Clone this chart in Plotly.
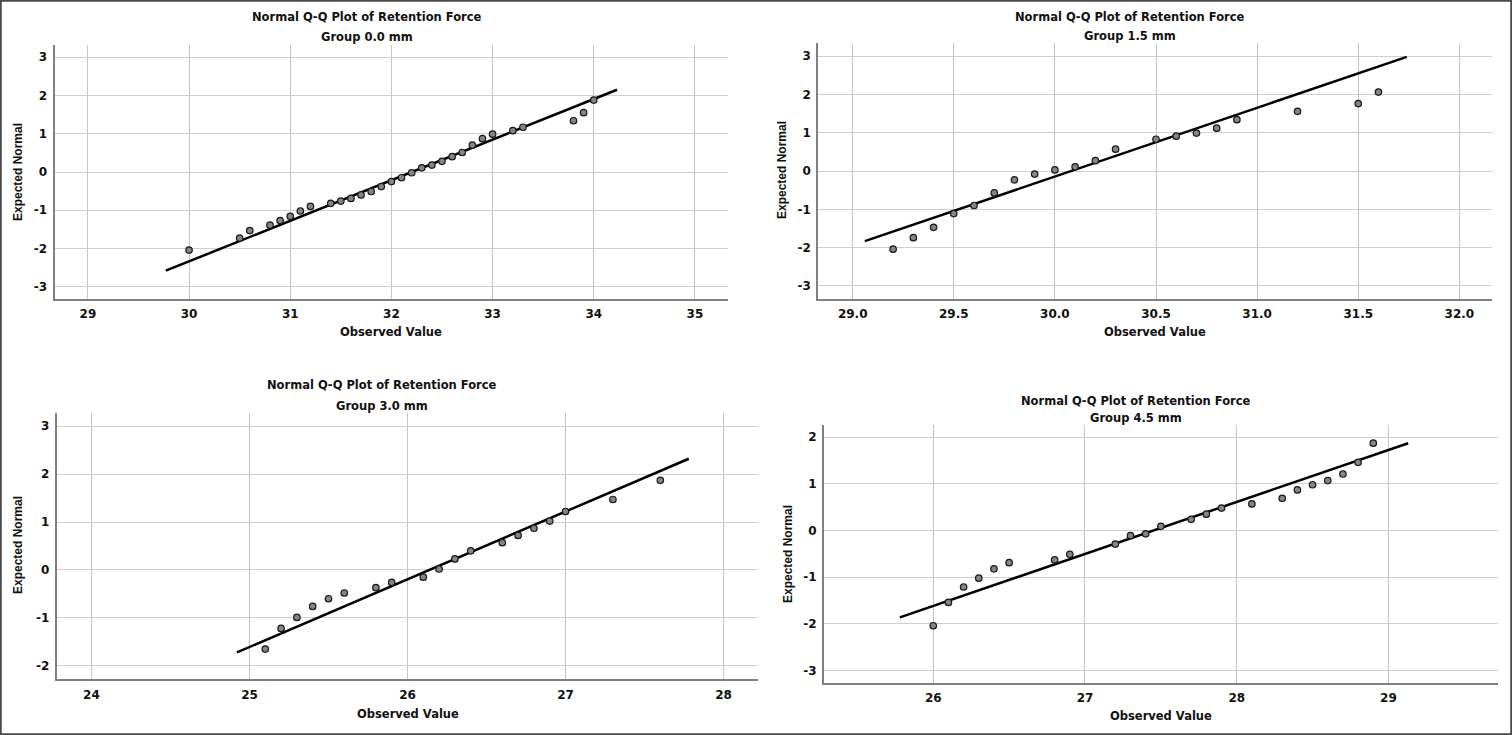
import plotly.graph_objects as go

W, H = 1512, 735

# ---------------- data ----------------
g00_x = [30.0, 30.5, 30.6, 30.8, 30.9, 31.0, 31.1, 31.2, 31.4, 31.5, 31.6, 31.7, 31.8, 31.9,
         32.0, 32.1, 32.2, 32.3, 32.4, 32.5, 32.6, 32.7, 32.8, 32.9, 33.0, 33.2, 33.3, 33.8, 33.9, 34.0]
g00_y = [-2.04, -1.73, -1.53, -1.39, -1.27, -1.16, -1.02, -0.90, -0.82, -0.76, -0.69, -0.60, -0.51, -0.38,
         -0.25, -0.15, -0.02, 0.11, 0.18, 0.28, 0.40, 0.51, 0.70, 0.87, 0.99, 1.08, 1.17, 1.34, 1.55, 1.88]
g00_line_x = [29.77, 34.23]
g00_line_y = [-2.58, 2.15]

g15_x = [29.2, 29.3, 29.4, 29.5, 29.6, 29.7, 29.8, 29.9, 30.0, 30.1, 30.2, 30.3,
         30.5, 30.6, 30.7, 30.8, 30.9, 31.2, 31.5, 31.6]
g15_y = [-2.04, -1.74, -1.47, -1.11, -0.90, -0.57, -0.23, -0.08, 0.03, 0.11, 0.27, 0.57,
         0.83, 0.91, 0.99, 1.12, 1.34, 1.56, 1.76, 2.06]
g15_line_x = [29.06, 31.74]
g15_line_y = [-1.83, 2.98]

g30_x = [25.1, 25.2, 25.3, 25.4, 25.5, 25.6, 25.8, 25.9, 26.1, 26.2, 26.3, 26.4,
         26.6, 26.7, 26.8, 26.9, 27.0, 27.3, 27.6]
g30_y = [-1.65, -1.22, -0.99, -0.76, -0.60, -0.48, -0.37, -0.26, -0.15, 0.02, 0.23, 0.40,
         0.57, 0.72, 0.87, 1.02, 1.22, 1.47, 1.87]
g30_line_x = [24.92, 27.78]
g30_line_y = [-1.72, 2.32]

g45_x = [26.0, 26.1, 26.2, 26.3, 26.4, 26.5, 26.8, 26.9, 27.2, 27.3, 27.4, 27.5, 27.7, 27.8,
         27.9, 28.1, 28.3, 28.4, 28.5, 28.6, 28.7, 28.8, 28.9]
g45_y = [-2.04, -1.54, -1.21, -1.02, -0.82, -0.69, -0.63, -0.51, -0.29, -0.11, -0.07, 0.09, 0.24, 0.35,
         0.48, 0.57, 0.69, 0.87, 0.98, 1.07, 1.21, 1.46, 1.87]
g45_line_x = [25.78, 29.13]
g45_line_y = [-1.86, 1.87]

main_title = "Normal Q-Q Plot of Retention Force"
group_titles = ["Group 0.0 mm", "Group 1.5 mm", "Group 3.0 mm", "Group 4.5 mm"]
x_title = "Observed Value"
y_title = "Expected Normal"

x_ticks_00 = [29, 30, 31, 32, 33, 34, 35]
x_ticks_15 = [29.0, 29.5, 30.0, 30.5, 31.0, 31.5, 32.0]
x_ticks_30 = [24, 25, 26, 27, 28]
x_ticks_45 = [26, 27, 28, 29]
y_ticks_00 = [-3, -2, -1, 0, 1, 2, 3]
y_ticks_15 = [-3, -2, -1, 0, 1, 2, 3]
y_ticks_30 = [-2, -1, 0, 1, 2, 3]
y_ticks_45 = [-3, -2, -1, 0, 1, 2]

# ---------------- layout geometry (pixels) ----------------
panels = [
    dict(x=g00_x, y=g00_y, lx=g00_line_x, ly=g00_line_y, xt=x_ticks_00, yt=y_ticks_00, xfmt="{:g}",
         px=(54.5, 728.3), py=(45, 299), xr=[28.67, 35.33], yr=[-3.32, 3.32],
         t1=16.7, t2=37.5, tc=367, xtl=332, ytl=18, ytc=172),
    dict(x=g15_x, y=g15_y, lx=g15_line_x, ly=g15_line_y, xt=x_ticks_15, yt=y_ticks_15, xfmt="{:.1f}",
         px=(818.3, 1491.7), py=(42.7, 299), xr=[28.83, 32.16], yr=[-3.34, 3.35],
         t1=16.7, t2=36, tc=1130, xtl=332, ytl=782, ytc=170),
    dict(x=g30_x, y=g30_y, lx=g30_line_x, ly=g30_line_y, xt=x_ticks_30, yt=y_ticks_30, xfmt="{:g}",
         px=(56.7, 758.3), py=(412.7, 679.3), xr=[23.78, 28.22], yr=[-2.28, 3.28],
         t1=385, t2=406, tc=382, xtl=714, ytl=18, ytc=545),
    dict(x=g45_x, y=g45_y, lx=g45_line_x, ly=g45_line_y, xt=x_ticks_45, yt=y_ticks_45, xfmt="{:g}",
         px=(824, 1497.7), py=(425, 682.7), xr=[25.28, 29.72], yr=[-3.26, 2.26],
         t1=400.7, t2=418.3, tc=1136, xtl=716, ytl=788, ytc=554),
]

fig = go.Figure()
TXT = "DejaVu Sans"
tickfont = dict(family=TXT, size=12, color="#111111", weight="bold")
annotations = []

for i, p in enumerate(panels):
    n = "" if i == 0 else str(i + 1)
    xa, ya = "x" + n, "y" + n
    fig.add_trace(go.Scatter(x=p["lx"], y=p["ly"], mode="lines", xaxis=xa, yaxis=ya,
                             line=dict(color="#000000", width=2.5), showlegend=False, hoverinfo="skip"))
    fig.add_trace(go.Scatter(x=p["x"], y=p["y"], mode="markers", xaxis=xa, yaxis=ya,
                             marker=dict(size=6.5, color="#858585", line=dict(color="#1a1a1a", width=1.2)),
                             showlegend=False))
    xdom = [p["px"][0] / W, p["px"][1] / W]
    ydom = [1 - p["py"][1] / H, 1 - p["py"][0] / H]
    fig.layout["xaxis" + n] = dict(
        domain=xdom, range=p["xr"], anchor=ya, tickmode="array", tickvals=p["xt"],
        ticktext=[p["xfmt"].format(v) for v in p["xt"]], showgrid=True, gridcolor="#c4c4c4", gridwidth=1.2,
        zeroline=False, showline=True, linecolor="#808080", linewidth=2, ticks="", tickfont=tickfont,
        ticklabelstandoff=3)
    fig.layout["yaxis" + n] = dict(
        domain=ydom, range=p["yr"], anchor=xa, tickmode="array", tickvals=p["yt"],
        ticktext=[str(v) for v in p["yt"]], showgrid=True, gridcolor="#d0d0d0", gridwidth=1.2,
        zeroline=False, showline=True, linecolor="#808080", linewidth=2, ticks="", tickfont=tickfont,
        ticklabelstandoff=3)
    annotations += [
        dict(text=main_title, x=p["tc"] / W, y=1 - p["t1"] / H, xref="paper", yref="paper",
             showarrow=False, xanchor="center", yanchor="middle",
             font=dict(family=TXT, size=11.5, color="#111111", weight="bold")),
        dict(text=group_titles[i], x=p["tc"] / W, y=1 - p["t2"] / H, xref="paper", yref="paper",
             showarrow=False, xanchor="center", yanchor="middle",
             font=dict(family=TXT, size=11.5, color="#111111", weight="bold")),
        dict(text=x_title, x=(p["px"][0] + p["px"][1]) / 2 / W, y=1 - p["xtl"] / H, xref="paper",
             yref="paper", showarrow=False, xanchor="center", yanchor="middle",
             font=dict(family=TXT, size=11.5, color="#111111", weight="bold")),
        dict(text=y_title, x=p["ytl"] / W, y=1 - p["ytc"] / H, xref="paper", yref="paper",
             showarrow=False, xanchor="center", yanchor="middle", textangle=-90,
             font=dict(family="Liberation Sans", size=12, color="#111111", weight="bold")),
    ]

fig.update_layout(
    width=W, height=H, margin=dict(l=0, r=0, t=0, b=0),
    paper_bgcolor="white", plot_bgcolor="white",
    annotations=annotations,
    shapes=[dict(type="rect", xref="paper", yref="paper", x0=0.0005, x1=0.9995, y0=0.001, y1=0.999,
                 line=dict(color="#4a4a4a", width=2))],
)

fig.write_html("out.html", config={"displayModeBar": False},
               post_script="document.body.style.margin='0';document.body.style.overflow='hidden';")
